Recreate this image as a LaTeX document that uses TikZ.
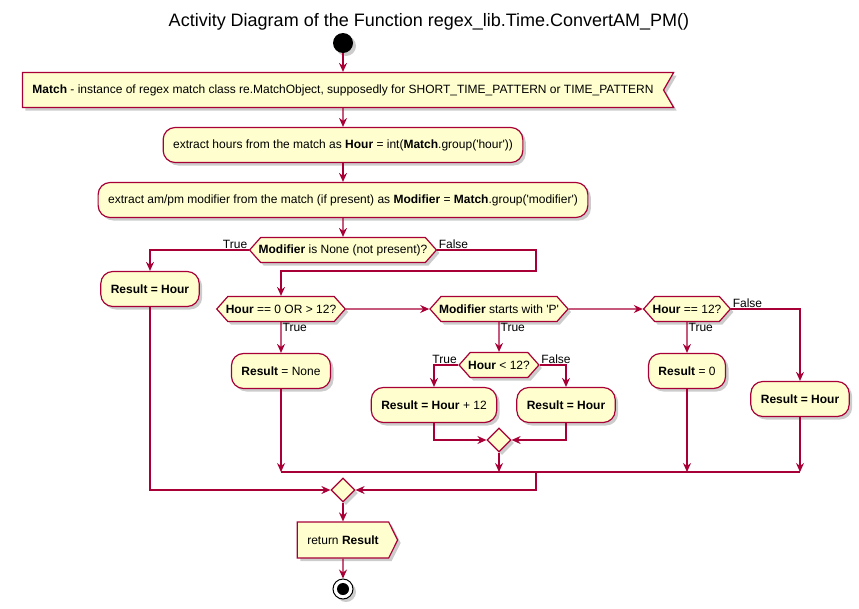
\documentclass[tikz,border=0pt]{standalone}
\usepackage{fontspec}
\setmainfont{Liberation Sans}
\usetikzlibrary{arrows.meta,shapes.symbols,shapes.geometric,shadows}
\definecolor{umlred}{HTML}{A80036}
\definecolor{umlfill}{HTML}{FEFECE}
\tikzset{
    base/.style = {draw=umlred, fill=umlfill, line width=1.2pt,
        font=\fontsize{12}{14}\selectfont,
        drop shadow={shadow xshift=3pt, shadow yshift=-3pt, fill=black!50, opacity=0.4}},
    action/.style = {base, rectangle, rounded corners=12pt,
        minimum height=35pt, inner xsep=10pt},
    decision/.style = {base, signal, signal to=west and east,
        signal pointer angle=97, minimum height=25pt, inner xsep=-2pt},
    inputbox/.style = {base, signal, signal to=nowhere, signal from=east,
        signal pointer angle=120, minimum height=35pt, inner xsep=10pt},
    returnbox/.style = {base, signal, signal to=east,
        signal pointer angle=127, minimum height=36pt, inner xsep=10pt},
    merge/.style = {base, diamond, minimum size=24pt, inner sep=0pt},
    startnode/.style = {circle, fill=black, minimum size=20pt, inner sep=0pt,
        drop shadow={shadow xshift=3pt, shadow yshift=-3pt, fill=black!50, opacity=0.4}},
    stopnode/.style = {circle, draw=black, fill=white, line width=1pt,
        minimum size=20pt, inner sep=0pt,
        drop shadow={shadow xshift=3pt, shadow yshift=-3pt, fill=black!50, opacity=0.4}},
    lbl/.style = {font=\fontsize{12}{14}\selectfont, inner sep=1pt, text=black},
    title/.style = {font=\fontsize{18}{21}\selectfont},
    arrow/.style = {draw=umlred, line width=1.2pt, ->},
    link/.style = {draw=umlred, line width=1.2pt}
}

\begin{document}
\begin{tikzpicture}[x=1pt, y=-1pt, >={Stealth[length=9pt,width=8pt,inset=3pt]}]
\useasboundingbox (0,0) rectangle (859,608);
\node [title] (ttl) at (429,22) {Activity Diagram of the Function regex\_lib.Time.ConvertAM\_PM()};
\node [startnode] (start) at (343,43) {};
\node [inputbox] (match) at (343,90) {\textbf{Match} - instance of regex match class re.MatchObject, supposedly for SHORT\_TIME\_PATTERN or TIME\_PATTERN};
\node [action] (hours) at (343,145) {extract hours from the match as \textbf{Hour} = int(\textbf{Match}.group(\textquotesingle hour\textquotesingle))};
\node [action] (modif) at (343,200) {extract am/pm modifier from the match (if present) as \textbf{Modifier} = \textbf{Match}.group(\textquotesingle modifier\textquotesingle)};
\node [decision] (isnone) at (343,250) {\textbf{Modifier} is None (not present)?};
\node [action] (res1) at (150,289) {\textbf{Result = Hour}};
\coordinate (fbend) at (536,271);
\node [decision] (zero12) at (281,309) {\textbf{Hour} == 0 OR > 12?};
\node [action] (resnone) at (281,371) {\textbf{Result} = None};
\node [decision] (startsP) at (499,309) {\textbf{Modifier} starts with \textquotesingle P\textquotesingle};
\node [decision] (lt12) at (499,365) {\textbf{Hour} < 12?};
\node [action] (res12) at (434,405) {\textbf{Result = Hour} + 12};
\node [action] (resh2) at (566,405) {\textbf{Result = Hour}};
\node [merge] (m1) at (499,440) {};
\node [decision] (eq12) at (687,309) {\textbf{Hour} == 12?};
\node [action] (res0) at (687,371) {\textbf{Result} = 0};
\node [action] (resh3) at (800,399) {\textbf{Result = Hour}};
\coordinate (jl) at (281,472);
\coordinate (jm) at (536,472);
\coordinate (jr) at (800,472);
\node [merge] (m2) at (343,490) {};
\node [returnbox] (ret) at (343,540) {return \textbf{Result}};
\node [stopnode] (stop) at (343,589) {};
\fill (stop) circle (6);

\draw [arrow] (start) -- (match);
\draw [arrow] (match) -- (hours);
\draw [arrow] (hours) -- (modif);
\draw [arrow] (modif) -- (isnone);
\draw [arrow] (isnone.west) -| node [lbl, pos=0, anchor=south east] {True} (res1);
\draw [arrow] (isnone.east) -| node [lbl, pos=0, anchor=south west] {False} (fbend) -| (zero12);
\draw [arrow] (zero12) -- node [lbl, pos=0, anchor=north west] {True} (resnone);
\draw [arrow] (zero12) -- (startsP);
\draw [arrow] (startsP) -- node [lbl, pos=0, anchor=north west] {True} (lt12);
\draw [arrow] (lt12.west) -| node [lbl, pos=0, anchor=south east] {True} (res12);
\draw [arrow] (lt12.east) -| node [lbl, pos=0, anchor=south west] {False} (resh2);
\draw [arrow] (res12) |- (m1);
\draw [arrow] (resh2) |- (m1);
\draw [arrow] (startsP) -- (eq12);
\draw [arrow] (eq12) -- node [lbl, pos=0, anchor=north west] {True} (res0);
\draw [arrow] (eq12.east) -| node [lbl, pos=0, anchor=south west] {False} (resh3);
\draw [arrow] (resnone) -- (resnone |- jl);
\draw [arrow] (m1) -- (m1 |- jl);
\draw [arrow] (res0) -- (res0 |- jl);
\draw [arrow] (resh3) -- (jr);
\draw [link] (jl) -- (jr);
\draw [arrow] (jm) |- (m2);
\draw [arrow] (res1) |- (m2);
\draw [arrow] (m2) -- (ret);
\draw [arrow] (ret) -- (stop);
\end{tikzpicture}
\end{document}
